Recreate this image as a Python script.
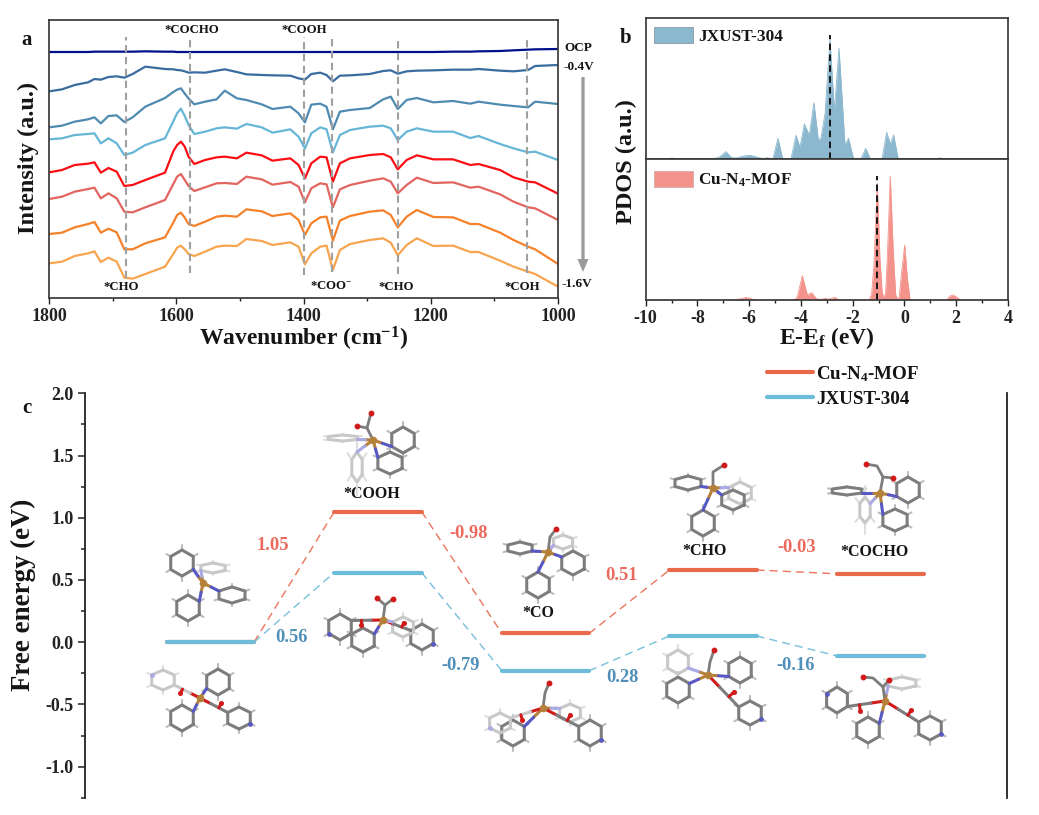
import numpy as np, pandas as pd, seaborn as sns
import matplotlib
matplotlib.use("Agg")
import matplotlib.pyplot as plt
from matplotlib.lines import Line2D
from matplotlib.patches import Patch, FancyArrow
from matplotlib.ticker import MultipleLocator, FormatStrFormatter

# ---------- panel a: in-situ IR spectra ----------
wavenumber = [1800,1780,1760,1739,1729,1719,1707,1694,1682,1669,1649,1618,1605,1599,1593,1587,1581,1572,1555,1537,1524,1505,
              1490,1466,1449,1421,1408,1398,1388,1374,1364,1354,1343,1327,1296,1275,1263,1252,1238,1222,1196,1165,
              1138,1125,1091,1070,1047,1036,1000]
ocp = [738,738,738,738,739,739,739,739,739,739,740,739,739,738,738,738,738,738,738,738,738,738,738,738,738,738,738,
       738,738,738,738,738,738,738,738,738,738,738,738,738,738,739,739,740,741,743,745,746,747]
v04 = [620,626,639,647,657,655,663,665,661,672,694,687,686,684,683,680,676,677,676,682,686,678,671,669,668,667,659,
       655,672,676,669,650,667,668,672,681,683,673,680,682,683,685,685,687,682,680,684,696,699]
v06 = [512,517,529,536,542,524,546,548,528,542,574,600,618,625,629,613,599,581,589,596,622,599,594,581,567,574,554,
       527,580,583,574,506,559,564,570,596,604,567,594,600,587,591,583,589,580,576,572,589,582]
v08 = [476,479,489,492,494,464,479,464,429,436,459,479,530,554,568,546,519,492,499,509,512,508,522,512,496,506,484,
       449,494,512,506,437,489,504,514,517,509,474,499,509,499,499,480,486,462,449,437,439,414]
v10 = [377,384,399,403,407,376,390,379,336,339,354,376,440,459,469,454,424,402,414,422,424,419,436,428,412,419,399,
       359,404,424,422,349,404,419,429,432,422,386,414,428,416,416,399,402,384,362,349,347,313]
v12 = [297,304,319,327,331,299,314,299,259,257,272,294,342,364,372,354,336,321,332,344,345,342,364,356,340,348,334,
       287,329,344,341,272,326,339,352,359,349,314,339,361,345,347,331,334,311,289,272,269,234]
v14 = [192,196,212,222,228,196,208,197,146,146,164,182,226,249,256,241,222,216,229,244,247,244,266,260,246,254,234,
       189,224,242,244,172,232,246,259,263,249,212,244,264,243,242,222,222,196,174,154,146,102]
v16 = [104,109,126,134,140,108,121,109,61,58,72,94,132,151,157,146,132,126,139,154,157,156,177,171,159,167,154,
       101,134,154,157,84,144,162,174,179,166,128,159,179,156,157,138,138,112,94,79,72,34]
potentials = ["OCP","-0.4V","-0.6V","-0.8V","-1.0V","-1.2V","-1.4V","-1.6V"]
spectra = [ocp,v04,v06,v08,v10,v12,v14,v16]
spec_colors = ["#00108c","#3a6c9f","#4f8bb0","#66b6d6","#fb0f14","#e2655f","#f5822a","#f8a550"]
peak_lines = [1680,1578,1400,1355,1252,1048]
peak_top = [783,783,783,789,783,777]
peak_bottom = [60,75,69,78,72,75]

# ---------- panel b: PDOS ----------
e_jxust = [-10,-9.2,-8.99,-8.75,-7.39,-7.13,-6.90,-6.68,-6.48,-6.29,-5.98,-5.65,-5.48,-5.30,-5.09,-4.89,-4.71,-4.64,
           -4.39,-4.19,-4.04,-3.87,-3.68,-3.50,-3.33,-3.23,-3.07,-2.88,-2.71,-2.53,-2.30,-2.16,-2.04,-1.95,-1.69,
           -1.50,-1.31,-0.87,-0.69,-0.55,-0.42,-0.24,1.24,1.35,1.50,3.8,3.9,4]
d_jxust = [0,0,4,0,0,8,23,5,4,9,12,6,2,5,0,63,3,0,0,72,36,106,72,170,58,63,138,360,145,333,43,63,23,0,0,33,0,0,81,46,73,0,0,5,0,0,2,3]
e_cu = [-10,-6.74,-6.36,-6.12,-5.84,-5.65,-4.49,-4.23,-4.14,-3.95,-3.75,-3.59,-3.39,-3.20,-3.06,-2.92,-2.71,-2.52,-2.43,
        -1.36,-1.27,-1.18,-1.05,-0.95,-0.86,-0.79,-0.73,-0.65,-0.55,-0.44,-0.34,-0.26,-0.20,-0.11,0.01,0.11,0.21,0.28,
        1.63,1.76,1.89,2.04,2.17,4]
d_cu = [0,0,3,8,2,0,0,2,10,73,15,22,3,2,5,2,8,1,0,0,20,105,350,125,20,8,20,155,372,155,15,2,10,85,165,65,3,0,0,12,15,7,0,0]
dband_jxust, dband_cu = -2.88, -1.08

# ---------- panel c: free energy ----------
steps = [0,1,2,3,4]
g_cu = [0.0,1.05,0.07,0.58,0.55]
g_jxust = [0.0,0.56,-0.23,0.05,-0.11]
delta_cu = ["1.05","-0.98","0.51","-0.03"]
delta_jxust = ["0.56","-0.79","0.28","-0.16"]
intermediates = ["*COOH","*CO","*CHO","*COCHO"]

W, H = 1039, 815
sns.set_theme(style="ticks")
plt.rcParams.update({
    "font.family": ["Liberation Serif","DejaVu Serif"], "font.weight":"bold",
    "axes.labelweight":"bold", "mathtext.fontset":"custom", "axes.unicode_minus":False,
    "mathtext.rm":"Liberation Serif:bold", "mathtext.bf":"Liberation Serif:bold",
    "mathtext.it":"Liberation Serif:bold", "mathtext.default":"bf",
    "axes.edgecolor":"#3a3a3a", "xtick.color":"#222222", "ytick.color":"#222222",
    "text.color":"#151515", "axes.labelcolor":"#151515", "patch.linewidth":0.6})
fig = plt.figure(figsize=(W/100,H/100), dpi=100)

def axpx(x0,y0,x1,y1,**kw):
    return fig.add_axes([x0/W,1-y1/H,(x1-x0)/W,(y1-y0)/H],**kw)
def ftext(x,y,s,**kw):
    kw.setdefault("ha","center"); kw.setdefault("va","center")
    fig.text(x/W,1-y/H,s,**kw)

# ----- a -----
axa = axpx(49.3,19.5,558,298)
df = pd.DataFrame({"Wavenumber":wavenumber*len(spectra),
                   "Intensity":np.concatenate(spectra),
                   "Potential":np.repeat(potentials,len(wavenumber))})
sns.lineplot(data=df,x="Wavenumber",y="Intensity",hue="Potential",hue_order=potentials,
             palette=spec_colors,estimator=None,sort=False,lw=1.6,legend=False,ax=axa)
axa.vlines(peak_lines,peak_bottom,peak_top,colors="#a0a0a0",linestyles=(0,(3.5,2.2)),lw=1.5,zorder=5)
axa.set_xlim(1800,1000); axa.set_ylim(0,835.5)
axa.set_yticks([])
axa.xaxis.set_major_locator(MultipleLocator(200)); axa.xaxis.set_minor_locator(MultipleLocator(100))
axa.tick_params(axis="x",which="major",length=4,width=1,labelsize=13,pad=3)
axa.tick_params(axis="x",which="minor",length=2.5,width=1)
axa.set_xlabel("Wavenumber (cm$^{-1}$)",fontsize=17,labelpad=0)
axa.set_ylabel("")
ftext(28,158,"Intensity (a.u.)",fontsize=17.5,rotation=90)
for s,x,y in [("*COCHO",192,30),("*COOH",304,30),("*CHO",121,287),("*COO$^{-}$",331,286),("*CHO",396,287),("*COH",522,287)]:
    ftext(x,y,s,fontsize=9.2)
ftext(27,40,"a",fontsize=15)
ftext(578,48,"OCP",fontsize=9.5); ftext(579,67,"-0.4V",fontsize=9.5); ftext(577,284,"-1.6V",fontsize=9.5)

# ----- b -----
axb1 = axpx(645.7,17.5,1008,159.3)
axb2 = axpx(645.7,159.3,1008,300)
for ax,e,d,c,band,ylim in [(axb1,e_jxust,d_jxust,"#8bb8cf",dband_jxust,425),(axb2,e_cu,d_cu,"#f4938c",dband_cu,422)]:
    sns.lineplot(x=e,y=d,color=c,lw=0.6,estimator=None,sort=False,ax=ax)
    ax.fill_between(e,0,d,color=c,lw=0)
    ax.plot([band,band],[0,max(d)+(13 if ax is axb1 else 0)],color="#151515",ls=(0,(3.4,2.2)),lw=1.4)
    ax.set_xlim(-10,4); ax.set_ylim(0,ylim); ax.set_yticks([])
axb1.set_xticks([]); axb1.spines["bottom"].set_linewidth(1.2)
axb2.xaxis.set_major_locator(MultipleLocator(2)); axb2.xaxis.set_minor_locator(MultipleLocator(1))
axb2.tick_params(axis="x",which="major",length=4,width=1,labelsize=13,pad=3)
axb2.tick_params(axis="x",which="minor",length=2.5,width=1)
axb2.set_xlabel("E-E$_{f}$ (eV)",fontsize=17,labelpad=-1)
ftext(626,162,"PDOS (a.u.)",fontsize=17.5,rotation=90)
ftext(626,38,"b",fontsize=15)
for ax,lab,c,ypx in [(axb1,"JXUST-304","#8bb8cf",26.5),(axb2,"Cu-N$_{4}$-MOF","#f4938c",170.5)]:
    h = [Patch(facecolor=c,edgecolor="#8a9aa5" if c=="#8bb8cf" else "#d9a9a5",label=lab)]
    ax.legend(handles=h,loc="upper left",bbox_to_anchor=(654/W,1-ypx/H),bbox_transform=fig.transFigure,
              frameon=False,fontsize=12.4,handlelength=2.27,handleheight=1.1,handletextpad=0.3,borderpad=0,borderaxespad=0)

# ----- c -----
axc = axpx(85,393.3,1007,798); axc.patch.set_alpha(0)
half = 0.26
rows = []
for name,vals in [("Cu-N4-MOF",g_cu),("JXUST-304",g_jxust)]:
    for s,v in zip(steps,vals):
        rows += [(name,s,s-half,v),(name,s,s+half,v)]
lev = pd.DataFrame(rows,columns=["Catalyst","Step","x","G"])
lev_colors = {"Cu-N4-MOF":"#e9694b","JXUST-304":"#6dbcd9"}
sns.lineplot(data=lev,x="x",y="G",hue="Catalyst",units="Step",estimator=None,palette=lev_colors,
             lw=3.0,solid_capstyle="round",legend=False,ax=axc,zorder=3)
for vals,c in [(g_cu,"#ec7a63"),(g_jxust,"#7cc2dc")]:
    for i in steps[:-1]:
        axc.plot([i+half,i+1-half],[vals[i],vals[i+1]],color=c,lw=1.05,ls=(0,(5.5,3.5)),zorder=2)
axc.set_xlim(-0.749,4.755); axc.set_ylim(-1.252,2.0)
sns.despine(ax=axc,top=True,bottom=True,right=False,left=False)
for sp in ("left","right"): axc.spines[sp].set_linewidth(1.3); axc.spines[sp].set_color("#222222")
axc.set_xticks([]); axc.set_xlabel(""); axc.set_ylabel("")
axc.yaxis.set_major_locator(MultipleLocator(0.5)); axc.yaxis.set_minor_locator(MultipleLocator(0.25))
axc.yaxis.set_major_formatter(FormatStrFormatter("%.1f"))
axc.tick_params(axis="y",which="major",length=5,width=1.1,labelsize=13,pad=3)
axc.tick_params(axis="y",which="minor",length=3,width=1.1)
ftext(23,595,"Free energy (eV)",fontsize=19.4,rotation=90)
ftext(27,408,"c",fontsize=15)
for s,(x,y) in zip(delta_cu,[(273,546),(469,534),(621,576),(797,548)]):
    ftext(x,y,s,fontsize=13.3,color="#ea6b5e")
for s,(x,y) in zip(delta_jxust,[(292,638),(461,665),(622,677),(796,666)]):
    ftext(x,y,s,fontsize=13.3,color="#4f8fb8")
for s,(x,y) in zip(intermediates,[(372,494),(538,613),(705,551),(874,552)]):
    ftext(x,y,s,fontsize=11.5)
hc = [Line2D([],[],color=lev_colors["Cu-N4-MOF"],lw=3.0,solid_capstyle="round",label="Cu-N$_{4}$-MOF"),
      Line2D([],[],color=lev_colors["JXUST-304"],lw=3.0,solid_capstyle="round",label="JXUST-304")]
axc.legend(handles=hc,loc="upper left",bbox_to_anchor=(767/W,1-364/H),bbox_transform=fig.transFigure,frameon=False,
           fontsize=13.7,handlelength=2.4,handletextpad=0.2,labelspacing=0.35,borderpad=0,borderaxespad=0)

# ----- overlay: arrow and molecule sketches (pixel coordinates) -----
ov = fig.add_axes([0,0,1,1],zorder=10); ov.set_xlim(0,W); ov.set_ylim(H,0); ov.axis("off"); ov.patch.set_alpha(0)
ov.add_patch(FancyArrow(583,77,0,195,width=3.2,head_width=11,head_length=13,length_includes_head=True,color="#9a9a9a",lw=0))

CU,NB,OX = "#b5813a","#5858c4","#d11a1a"
def ring(cx,cy,rx,ry,light,link,cu,rot=0.0):
    a = np.deg2rad(np.arange(6)*60+rot+30)
    vx,vy = cx+rx*np.cos(a),cy+ry*np.sin(a)
    gray = "#c8c8c8" if light else "#7d7d7d"; hc_ = "#dedede" if light else "#bcbcbc"
    for i in range(6):
        ov.plot([cx+(rx+5)*np.cos(a[i]),vx[i]],[cy+(ry+5*ry/rx)*np.sin(a[i]),vy[i]],color=hc_,lw=1.5,solid_capstyle="round",zorder=1)
    ov.plot(np.r_[vx,vx[0]],np.r_[vy,vy[0]],color=gray,lw=2.2,solid_joinstyle="round",zorder=2)
    d = np.hypot(vx-cu[0],vy-cu[1]); n = d.argmin(); fa = d.argmax()
    nc = "#a9a9e6" if light else NB
    if link=="N":
        mx,my = (cu[0]+vx[n])/2,(cu[1]+vy[n])/2
        ov.plot([cu[0],mx],[cu[1],my],color=CU,lw=2.2,zorder=3)
        ov.plot([mx,vx[n]],[my,vy[n]],color=nc,lw=2.2,zorder=3)
    else:
        ox,oy = cu[0]+(vx[n]-cu[0])*.38,cu[1]+(vy[n]-cu[1])*.38
        c2x,c2y = cu[0]+(vx[n]-cu[0])*.68,cu[1]+(vy[n]-cu[1])*.68
        ov.plot([cu[0],ox],[cu[1],oy],color=OX,lw=2.2,zorder=3)
        ov.plot([ox,c2x,vx[n]],[oy,c2y,vy[n]],color=gray,lw=2.2,zorder=3)
        ov.plot([c2x,c2x+(vy[n]-cu[1])*.16],[c2y,c2y-(vx[n]-cu[0])*.16],color=OX,lw=2.2,zorder=3)
        ov.plot([c2x+(vy[n]-cu[1])*.16],[c2y-(vx[n]-cu[0])*.16],"o",ms=2.6,color=OX,zorder=4)
        ov.plot([vx[fa]],[vy[fa]],"o",ms=2.4,color=nc,zorder=4)
def mol(cu,rings,chain=()):
    for r in rings: ring(*r,cu)
    for pts in chain:
        xs,ys = zip(*pts)
        ov.plot(xs,ys,color="#7d7d7d",lw=2.0,zorder=5)
        ov.plot(xs[-1],ys[-1],"o",ms=3.2,color=OX,zorder=6)
    ov.plot(*cu,"o",ms=4.5,color=CU,zorder=7)

mol((203,583),[(182,563,13,13,False,"N"),(188,608,13,13,False,"N"),(232,595,15,8,False,"N"),(213,568,14,5,True,"N")])
mol((200,698),[(218,682,13,13,False,"N"),(182,718,13,13,False,"N"),(239,718,13,11,False,"O"),(163,680,13,10,True,"O")])
mol((373,440),[(343,438,17,3,True,"N"),(403,440,13,13,False,"N"),(357,467,6,15,True,"N"),(390,463,14,11,False,"N")],
    [[(373,440),(367,428),(357,426)],[(367,428),(371,413)]])
mol((383,620),[(340,627,13,13,False,"O"),(363,640,13,12,False,"N"),(422,637,13,13,False,"O"),(403,627,12,10,True,"N")],
    [[(383,620),(385,605),(377,598)],[(385,605),(393,599)]])
mol((548,552),[(520,548,14,6,False,"N"),(538,585,13,13,False,"N"),(573,563,13,12,False,"N"),(563,542,11,7,True,"N")],
    [[(548,552),(550,537),(556,529)]])
mol((543,708),[(513,733,13,13,False,"N"),(500,723,12,10,True,"O"),(570,713,12,9,True,"N"),(590,733,13,13,False,"O")],
    [[(543,708),(545,693),(549,683)]])
mol((713,488),[(688,483,15,7,False,"N"),(703,523,13,13,False,"N"),(740,493,13,11,True,"N"),(733,500,13,10,False,"N")],
    [[(713,488),(713,472),(724,465)]])
mol((708,675),[(740,670,13,13,False,"N"),(678,690,13,13,False,"N"),(678,662,12,12,True,"N"),(750,713,13,12,False,"O")],
    [[(708,675),(710,662),(714,650)]])
mol((880,493),[(847,491,17,4,False,"N"),(908,490,13,13,False,"N"),(895,520,14,11,False,"N"),(865,510,6,13,True,"N")],
    [[(880,493),(883,477),(893,478)],[(883,477),(877,466),(866,464)]])
mol((885,701),[(837,700,12,13,False,"O"),(868,730,13,13,False,"N"),(930,728,13,12,False,"O"),(902,683,16,6,True,"N")],
    [[(885,701),(883,687),(889,680)],[(883,687),(873,678),(863,677)]])

fig.savefig("out.png",dpi=100)
